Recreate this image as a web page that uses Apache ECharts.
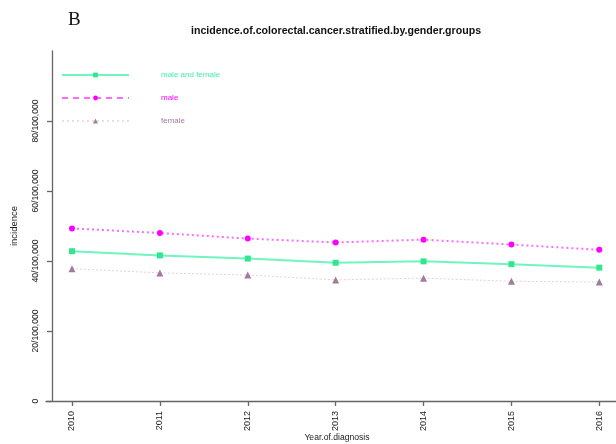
<!DOCTYPE html>
<html>
<head>
<meta charset="utf-8">
<script src="https://cdn.jsdelivr.net/npm/echarts@6/dist/echarts.min.js"></script>
<style>html,body{margin:0;padding:0;background:#fff;}#c{width:616px;height:444px;}</style>
</head>
<body>
<div id="c"></div>
<script>
var years = [2010, 2011, 2012, 2013, 2014, 2015, 2016];
var maleAndFemale = [42.8, 41.6, 40.7, 39.5, 39.9, 39.1, 38.1];
var male = [49.3, 48.0, 46.4, 45.3, 46.1, 44.7, 43.2];
var female = [37.8, 36.6, 36.0, 34.6, 35.1, 34.2, 34.0];
var yTicks = [0, 20, 40, 60, 80];
var yTickLabels = ['0', '20/100,000', '40/100,000', '60/100,000', '80/100,000'];
var seriesNames = ['male and female', 'male', 'female'];

function pairs(vals) { return years.map(function (y, i) { return [y, vals[i]]; }); }

var chart = echarts.init(document.getElementById('c'), null, {renderer: 'canvas'});
var font = 'Liberation Sans, Arial, Helvetica, sans-serif';
chart.setOption({
  animation: false,
  backgroundColor: '#fff',
  title: {
    text: 'incidence.of.colorectal.cancer.stratified.by.gender.groups',
    left: 336, top: 26, textAlign: 'center', padding: 0,
    textStyle: {fontFamily: font, fontSize: 10.6, fontWeight: 'bold', color: '#111'}
  },
  graphic: [{
    type: 'text', left: 68, top: 11,
    style: {text: 'B', fontFamily: 'Liberation Serif, Times New Roman, serif', fontSize: 19, fill: '#111'}
  }, {
    type: 'text', x: 337, y: 438,
    style: {text: 'Year.of.diagnosis', fontFamily: font, fontSize: 8.6, fill: '#222', align: 'center', verticalAlign: 'middle'}
  }],
  legend: {
    orient: 'vertical', left: 61, top: 71, padding: 0, itemWidth: 67, itemHeight: 6, itemGap: 15,
    textStyle: {fontFamily: font, fontSize: 8, padding: [0, 0, 0, 27]},
    data: [
      {name: seriesNames[0], textStyle: {color: '#3ff2a6'}},
      {name: seriesNames[1], textStyle: {color: '#ff00ff'}, lineStyle: {type: [6, 5], width: 2}},
      {name: seriesNames[2], textStyle: {color: '#a27a9c'}, lineStyle: {type: [2, 3], width: 1, color: '#d9b8cf'}}
    ]
  },
  grid: {left: 46, right: 0, top: 51, bottom: 43, outerBoundsMode: 'none', containLabel: false},
  xAxis: {
    type: 'value', min: 2009.704, max: 2016.19,
    axisLine: {show: true, lineStyle: {color: '#666', width: 1.3}},
    axisTick: {show: true, length: 5, customValues: years, lineStyle: {color: '#666', width: 1.3}},
    axisLabel: {customValues: years, rotate: 90, margin: 10, fontFamily: font, fontSize: 9, color: '#222',
      formatter: function (v) { return String(v); }},
    splitLine: {show: false}
  },
  yAxis: {
    type: 'value', min: 0, max: 100, offset: -6,
    name: 'incidence', nameLocation: 'middle', nameGap: 33,
    nameTextStyle: {fontFamily: font, fontSize: 9.5, color: '#222'},
    axisLine: {show: true, lineStyle: {color: '#666', width: 1.3}},
    axisTick: {show: true, length: 5, customValues: yTicks, lineStyle: {color: '#666', width: 1.3}},
    axisLabel: {customValues: yTicks, rotate: 90, margin: 11.5, fontFamily: font, fontSize: 8.6, color: '#222',
      formatter: function (v) { return yTickLabels[yTicks.indexOf(v)]; }},
    splitLine: {show: false}
  },
  series: [
    {
      name: seriesNames[0], type: 'line', data: pairs(maleAndFemale),
      symbol: 'rect', symbolSize: 6,
      itemStyle: {color: '#2fe88e'},
      lineStyle: {color: '#6ff5be', width: 2, type: 'solid'}
    },
    {
      name: seriesNames[1], type: 'line', data: pairs(male),
      symbol: 'circle', symbolSize: 6,
      itemStyle: {color: '#ff00ff'},
      lineStyle: {color: '#ff6bff', width: 2, type: [2, 3]}
    },
    {
      name: seriesNames[2], type: 'line', data: pairs(female),
      symbol: 'triangle', symbolSize: 7,
      itemStyle: {color: '#a27a9c'},
      lineStyle: {color: '#e6cfe0', width: 1, type: [2, 2]}
    }
  ]
});
</script>
</body>
</html>
